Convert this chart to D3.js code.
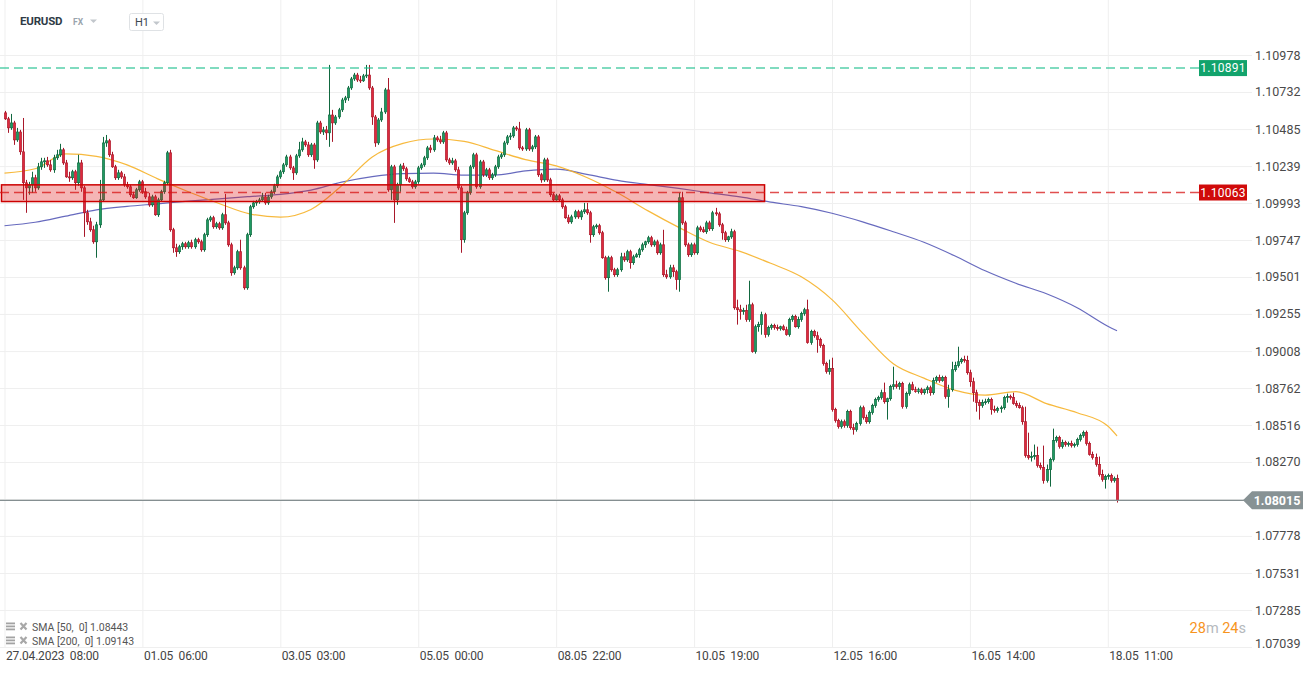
<!DOCTYPE html>
<html><head><meta charset="utf-8">
<script src="https://cdn.jsdelivr.net/npm/d3@7"></script>
<style>
html,body{margin:0;padding:0;background:#fff;}
svg{display:block;font-family:Roboto,"Noto Sans",Arial,sans-serif;}
</style></head><body>
<svg id="chart" width="1315" height="673"></svg>
<script>
// ---------------- DATA ----------------
const symbol = "EURUSD";
const market = "FX";
const interval = "H1";
const firstOpen = 1.10593;
const closes = [
1.10553,1.10493,1.10526,1.10413,1.10466,1.10334,1.10128,1.10094,1.10114,1.10161,
1.10094,1.10234,1.10267,1.10274,1.10247,1.10214,1.10294,1.10314,1.10347,1.10260,
1.10167,1.10161,1.10201,1.10128,1.10260,1.10094,1.09928,1.09868,1.09815,1.09735,
1.09848,1.10014,1.10393,1.10407,1.10314,1.10234,1.10161,1.10194,1.10167,1.10114,
1.10101,1.10048,1.10028,1.10081,1.10134,1.10068,1.10034,1.09981,1.10034,1.09915,
1.10014,1.10068,1.10128,1.10327,1.09815,1.09695,1.09669,1.09702,1.09722,1.09702,
1.09729,1.09702,1.09749,1.09735,1.09682,1.09782,1.09881,1.09895,1.09835,1.09855,
1.09828,1.09915,1.09861,1.09715,1.09529,1.09562,1.09669,1.09562,1.09429,1.09782,
1.09968,1.09994,1.10001,1.10014,1.10034,1.09994,1.10034,1.10068,1.10108,1.10167,
1.10201,1.10247,1.10300,1.10227,1.10194,1.10307,1.10347,
1.10400,1.10380,1.10314,1.10380,1.10280,1.10526,1.10466,1.10480,1.10460,1.10579,
1.10526,1.10566,1.10613,1.10679,1.10693,1.10759,1.10819,1.10845,1.10812,1.10806,
1.10839,1.10845,1.10759,1.10566,1.10393,1.10546,1.10599,1.10746,1.10081,1.10234,
1.10014,1.10114,1.10240,1.10221,1.10154,1.10134,1.10101,1.10134,1.10227,1.10247,
1.10294,1.10360,1.10347,1.10427,1.10413,1.10400,1.10460,1.10280,1.10260,1.10274,
1.10214,1.10094,1.09749,1.09928,1.10061,1.10234,1.10314,1.10101,1.10267,1.10181,
1.10214,1.10161,1.10181,1.10234,1.10300,1.10314,1.10393,1.10433,1.10440,1.10493,
1.10486,1.10360,1.10353,1.10480,1.10353,1.10367,1.10433,1.10181,1.10147,1.10280,
1.10147,1.10048,1.10014,1.10041,1.10014,1.09968,1.09895,1.09868,1.09901,1.09935,
1.09901,1.09935,1.09948,1.09928,1.09782,1.09835,1.09842,1.09795,
1.09629,1.09496,1.09629,1.09549,1.09516,1.09549,1.09635,1.09615,1.09669,1.09596,
1.09635,1.09649,1.09682,1.09715,1.09735,1.09762,1.09715,1.09735,1.09662,1.09715,
1.09516,1.09502,1.09562,1.09536,1.09483,1.10028,1.09861,1.09715,1.09649,1.09715,
1.09662,1.09828,1.09815,1.09802,1.09861,1.09822,1.09928,1.09921,1.09848,1.09795,
1.09749,1.09768,1.09802,
1.09296,1.09283,1.09270,1.09277,1.09217,1.09316,1.09004,1.09170,1.09184,1.09250,
1.09117,1.09164,1.09177,1.09164,1.09157,1.09170,1.09150,1.09117,1.09217,1.09237,
1.09170,1.09217,1.09257,1.09283,1.09064,1.09137,1.09110,1.09084,1.09044,1.08924,
1.08871,1.08891,1.08618,1.08545,1.08505,1.08538,1.08512,1.08605,1.08498,1.08485,
1.08525,1.08631,1.08565,1.08538,1.08598,1.08645,1.08685,1.08698,1.08731,1.08671,
1.08691,1.08771,1.08784,1.08771,1.08791,1.08638,1.08725,1.08784,1.08751,1.08738,
1.08751,1.08731,1.08751,1.08764,1.08731,1.08811,1.08831,1.08811,1.08831,1.08705,
1.08751,1.08884,1.08911,1.08937,1.08951,1.08944,1.08864,1.08804,1.08731,1.08665,
1.08645,1.08665,1.08671,1.08685,1.08618,1.08612,1.08625,1.08631,1.08698,1.08705,
1.08698,1.08658,1.08645,1.08631,1.08538,1.08312,1.08299,1.08306,1.08312,1.08246,
1.08233,1.08146,1.08219,1.08286,1.08412,1.08432,1.08372,1.08399,1.08386,1.08392,
1.08379,1.08386,1.08419,1.08445,1.08465,1.08392,1.08319,1.08299,1.08253,1.08186,
1.08153,1.08173,1.08179,1.08146,1.08159,1.08015
];
const highs = [
1.10606,1.10566,1.10586,1.10540,1.10493,1.10480,1.10559,1.10147,1.10134,1.10201,
1.10181,1.10260,1.10294,1.10294,1.10300,1.10280,1.10314,1.10347,1.10387,1.10360,
1.10280,1.10201,1.10214,1.10214,1.10314,1.10280,1.10108,1.09948,1.09895,1.09842,
1.09868,1.10147,1.10433,1.10446,1.10420,1.10334,1.10247,1.10214,1.10207,1.10187,
1.10134,1.10114,1.10068,1.10094,1.10147,1.10147,1.10094,1.10061,1.10048,1.10048,
1.10028,1.10081,1.10141,1.10340,1.10347,1.09828,1.09722,1.09715,1.09735,1.09735,
1.09742,1.09749,1.09762,1.09762,1.09749,1.09795,1.09895,1.09908,1.09908,1.09868,
1.09868,1.09928,1.10054,1.09875,1.09729,1.09576,1.09682,1.09749,1.09576,1.09795,
1.09981,1.10008,1.10014,1.10028,1.10061,1.10061,1.10048,1.10081,1.10121,1.10181,
1.10214,1.10260,1.10314,1.10314,1.10240,1.10320,1.10400,
1.10427,1.10413,1.10400,1.10393,1.10393,1.10540,1.10540,1.10500,1.10506,1.10912,
1.10613,1.10579,1.10626,1.10693,1.10706,1.10772,1.10832,1.10859,1.10859,1.10839,
1.10852,1.10912,1.10912,1.10772,1.10579,1.10559,1.10626,1.10759,1.10825,1.10247,
1.10247,1.10128,1.10254,1.10260,1.10234,1.10167,1.10147,1.10147,1.10240,1.10260,
1.10307,1.10373,1.10380,1.10446,1.10440,1.10440,1.10473,1.10473,1.10294,1.10294,
1.10287,1.10234,1.10108,1.09941,1.10074,1.10247,1.10327,1.10327,1.10280,1.10280,
1.10227,1.10227,1.10194,1.10247,1.10314,1.10327,1.10407,1.10446,1.10460,1.10506,
1.10506,1.10533,1.10373,1.10493,1.10493,1.10380,1.10446,1.10446,1.10194,1.10294,
1.10294,1.10161,1.10061,1.10054,1.10054,1.10028,1.09981,1.09915,1.09915,1.09948,
1.09948,1.09948,1.09994,1.09994,1.09941,1.09848,1.09855,1.09855,
1.09808,1.09642,1.09642,1.09642,1.09562,1.09562,1.09662,1.09662,1.09682,1.09682,
1.09649,1.09662,1.09695,1.09729,1.09742,1.09775,1.09775,1.09749,1.09749,1.09729,
1.09815,1.09549,1.09582,1.09582,1.09549,1.10061,1.10068,1.09875,1.09729,1.09729,
1.09729,1.09842,1.09842,1.09835,1.09875,1.09875,1.09941,1.09961,1.09935,1.09861,
1.09808,1.09775,1.09822,
1.09815,1.09350,1.09316,1.09296,1.09316,1.09476,1.09330,1.09184,1.09203,1.09270,
1.09263,1.09177,1.09190,1.09190,1.09184,1.09177,1.09184,1.09170,1.09230,1.09250,
1.09250,1.09237,1.09270,1.09296,1.09350,1.09150,1.09150,1.09137,1.09097,1.09057,
1.08937,1.08951,1.08964,1.08631,1.08558,1.08552,1.08552,1.08618,1.08618,1.08525,
1.08538,1.08645,1.08645,1.08585,1.08612,1.08658,1.08698,1.08711,1.08751,1.08798,
1.08698,1.08784,1.08904,1.08811,1.08804,1.08804,1.08738,1.08798,1.08804,1.08771,
1.08764,1.08764,1.08758,1.08778,1.08778,1.08831,1.08844,1.08851,1.08844,1.08844,
1.08784,1.08937,1.08937,1.09037,1.08964,1.08977,1.08977,1.08884,1.08831,1.08751,
1.08685,1.08685,1.08691,1.08698,1.08698,1.08645,1.08638,1.08645,1.08711,1.08725,
1.08718,1.08731,1.08678,1.08665,1.08645,1.08638,1.08465,1.08339,1.08386,1.08372,
1.08266,1.08379,1.08253,1.08299,1.08492,1.08445,1.08445,1.08419,1.08412,1.08406,
1.08412,1.08399,1.08432,1.08459,1.08479,1.08479,1.08406,1.08339,1.08326,1.08306,
1.08219,1.08186,1.08193,1.08193,1.08173,1.08186
];
const lows = [
1.10546,1.10460,1.10480,1.10380,1.10400,1.10314,1.10014,1.09928,1.10048,1.10061,
1.10068,1.10081,1.10214,1.10227,1.10234,1.10201,1.10194,1.10280,1.10300,1.10247,
1.10161,1.10134,1.10147,1.10081,1.10108,1.10068,1.09768,1.09848,1.09802,1.09722,
1.09629,1.09828,1.10001,1.10367,1.10300,1.10227,1.10147,1.10147,1.10154,1.10101,
1.10088,1.10034,1.10021,1.10021,1.10068,1.10054,1.10021,1.09968,1.09968,1.09908,
1.09901,1.10001,1.10054,1.10114,1.09802,1.09662,1.09635,1.09655,1.09682,1.09689,
1.09689,1.09689,1.09689,1.09722,1.09669,1.09669,1.09768,1.09868,1.09822,1.09822,
1.09815,1.09815,1.09848,1.09702,1.09509,1.09516,1.09549,1.09549,1.09416,1.09416,
1.09768,1.09955,1.09975,1.09988,1.10001,1.09981,1.09981,1.10021,1.10054,1.10094,
1.10154,1.10187,1.10234,1.10214,1.10147,1.10181,1.10294,
1.10334,1.10367,1.10300,1.10300,1.10221,1.10267,1.10453,1.10446,1.10413,1.10367,
1.10400,1.10513,1.10553,1.10599,1.10659,1.10673,1.10746,1.10806,1.10799,1.10792,
1.10799,1.10825,1.10746,1.10513,1.10367,1.10380,1.10533,1.10586,1.10068,1.10014,
1.09861,1.09981,1.10068,1.10207,1.10141,1.10128,1.10088,1.10088,1.10121,1.10214,
1.10234,1.10280,1.10327,1.10334,1.10400,1.10387,1.10387,1.10267,1.10247,1.10247,
1.10201,1.10081,1.09662,1.09729,1.09915,1.10048,1.10221,1.10088,1.10088,1.10167,
1.10167,1.10147,1.10147,1.10167,1.10221,1.10287,1.10300,1.10380,1.10413,1.10427,
1.10473,1.10347,1.10340,1.10340,1.10340,1.10334,1.10353,1.10167,1.10128,1.10134,
1.10134,1.10034,1.10001,1.10008,1.10001,1.09955,1.09888,1.09855,1.09855,1.09888,
1.09888,1.09881,1.09921,1.09915,1.09729,1.09768,1.09822,1.09782,
1.09622,1.09483,1.09403,1.09536,1.09502,1.09502,1.09536,1.09602,1.09602,1.09556,
1.09582,1.09629,1.09629,1.09669,1.09695,1.09722,1.09702,1.09702,1.09649,1.09649,
1.09502,1.09489,1.09489,1.09502,1.09416,1.09403,1.09848,1.09702,1.09635,1.09635,
1.09649,1.09649,1.09802,1.09795,1.09788,1.09808,1.09808,1.09908,1.09835,1.09749,
1.09735,1.09735,1.09755,
1.09283,1.09184,1.09217,1.09250,1.09203,1.09203,1.08997,1.08991,1.09137,1.09117,
1.09097,1.09104,1.09150,1.09150,1.09144,1.09144,1.09144,1.09110,1.09104,1.09203,
1.09164,1.09157,1.09203,1.09243,1.09057,1.09050,1.09097,1.08997,1.09030,1.08911,
1.08858,1.08851,1.08605,1.08532,1.08492,1.08492,1.08498,1.08498,1.08485,1.08452,
1.08472,1.08512,1.08552,1.08525,1.08525,1.08585,1.08631,1.08671,1.08685,1.08658,
1.08552,1.08678,1.08751,1.08758,1.08751,1.08625,1.08625,1.08711,1.08745,1.08731,
1.08725,1.08718,1.08718,1.08725,1.08711,1.08718,1.08798,1.08798,1.08804,1.08691,
1.08631,1.08738,1.08871,1.08898,1.08924,1.08931,1.08851,1.08771,1.08671,1.08605,
1.08552,1.08631,1.08651,1.08658,1.08585,1.08598,1.08598,1.08598,1.08618,1.08665,
1.08685,1.08651,1.08631,1.08625,1.08518,1.08299,1.08286,1.08273,1.08286,1.08233,
1.08219,1.08126,1.08133,1.08106,1.08273,1.08399,1.08359,1.08359,1.08372,1.08372,
1.08366,1.08366,1.08372,1.08406,1.08432,1.08379,1.08312,1.08286,1.08239,1.08173,
1.08139,1.08093,1.08153,1.08133,1.08133,1.08000
];
// moving averages, read at every 10th candle
const smaIdx = [0,10,20,30,40,50,60,70,80,90,100,110,120,130,140,150,160,170,180,190,200,210,220,230,240,250,260,270,280,290,300,310,320,330,340,350,360,363];
const sma50 = [1.10192,1.10221,1.10320,1.10304,1.10247,1.10154,1.10068,1.09990,1.09921,1.09899,1.09950,1.10108,1.10300,1.10390,1.10419,1.10403,1.10343,1.10282,1.10240,1.10163,1.10061,1.09941,1.09831,1.09732,1.09671,1.09592,1.09502,1.09350,1.09128,1.08924,1.08828,1.08748,1.08715,1.08738,1.08658,1.08598,1.08509,1.08443];
const sma200 = [1.09842,1.09865,1.09906,1.09948,1.09971,1.09988,1.10006,1.10021,1.10036,1.10051,1.10079,1.10132,1.10169,1.10189,1.10192,1.10179,1.10179,1.10207,1.10218,1.10184,1.10144,1.10116,1.10090,1.10061,1.10034,1.09999,1.09969,1.09925,1.09868,1.09802,1.09732,1.09642,1.09542,1.09459,1.09389,1.09296,1.09173,1.09143];
const priceTicks = [1.10978,1.10732,1.10485,1.10239,1.09993,1.09747,1.09501,1.09255,1.09008,1.08762,1.08516,1.08270,1.08024,1.07778,1.07531,1.07285,1.07039];
const timeTickIdx = [0,45,90,135,180,225,270,315,360];
const timeTickLabels = ["27.04.2023  08:00","01.05  06:00","03.05  03:00","05.05  00:00","08.05  22:00","10.05  19:00","12.05  16:00","16.05  14:00","18.05  11:00"];
const resistanceLevel = 1.10891;
const supportLevel = 1.10063;
const zoneTop = 1.10114, zoneBottom = 1.10003, zoneStartIdx = -1, zoneEndIdx = 248;
const lastPrice = 1.08015;
const legendItems = ["SMA [50,  0] 1.08443","SMA [200,  0] 1.09143"];
const timerParts = [["28","m"],["24","s"]];

// ---------------- CHART ----------------
const svg = d3.select("#chart");
const plotRight = 1252, plotBottom = 647;
const x = d3.scaleLinear().domain([0, 363]).range([4.5, 1117]);
const y = d3.scaleLinear().domain([1.07039, 1.10978]).range([647, 55]);
const fmt = d3.format(".5f");

// horizontal gridlines
svg.append("g").attr("transform", `translate(${plotRight},0)`)
  .call(d3.axisLeft(y).tickValues(priceTicks).tickSize(plotRight).tickFormat(""))
  .call(g => g.select(".domain").remove())
  .call(g => g.selectAll("line").attr("stroke", "#efefef"));
// vertical gridlines
svg.append("g").attr("transform", `translate(0,${plotBottom})`)
  .call(d3.axisBottom(x).tickValues(timeTickIdx).tickSize(-plotBottom).tickFormat(""))
  .call(g => g.select(".domain").remove())
  .call(g => g.selectAll("line").attr("stroke", "#efefef"));

// price axis labels
svg.append("g").attr("transform", `translate(${plotRight},0)`)
  .call(d3.axisRight(y).tickValues(priceTicks).tickSize(0).tickPadding(3).tickFormat(fmt))
  .call(g => g.select(".domain").remove())
  .call(g => g.selectAll("text").attr("font-size", 12.5).attr("fill", "#4a4a4a")
      .attr("font-family", "Roboto, sans-serif")
      .attr("transform", d => d === 1.07039 ? "translate(0,-4)" : null));

// time axis labels
svg.append("g").attr("transform", `translate(0,${plotBottom})`)
  .call(d3.axisBottom(x).tickValues(timeTickIdx).tickSize(0).tickPadding(4.5)
        .tickFormat((d, i) => timeTickLabels[i]))
  .call(g => g.select(".domain").remove())
  .call(g => g.selectAll("text").attr("text-anchor", "start").attr("dx", 1)
      .attr("font-size", 12).attr("fill", "#444").style("white-space", "pre")
      .attr("font-family", "Roboto, sans-serif").attr("letter-spacing", "-0.2"));

// moving averages
const smaLine = d3.line().x(d => x(d[0])).y(d => y(d[1])).curve(d3.curveMonotoneX);
svg.append("path").datum(smaIdx.map((d, i) => [d, sma200[i]]))
  .attr("d", smaLine).attr("fill", "none").attr("stroke", "#4c50b3").attr("stroke-opacity", 0.85).attr("stroke-width", 1.2);
svg.append("path").datum(smaIdx.map((d, i) => [d, sma50[i]]))
  .attr("d", smaLine).attr("fill", "none").attr("stroke", "#f6b128").attr("stroke-opacity", 0.9).attr("stroke-width", 1.2);

// candles
const candles = closes.map((c, i) => {
  const o = i === 0 ? firstOpen : closes[i - 1];
  return { i, o, c, h: Math.max(highs[i], o, c), l: Math.min(lows[i], o, c) };
});
const upFill = "#1f9962", upStroke = "#11683f", dnFill = "#dd2a3d", dnStroke = "#a8182a";
const cg = svg.append("g");
cg.selectAll("line").data(candles).join("line")
  .attr("x1", d => Math.round(x(d.i)) + 0.5).attr("x2", d => Math.round(x(d.i)) + 0.5)
  .attr("y1", d => y(d.h)).attr("y2", d => y(d.l))
  .attr("stroke", d => d.c >= d.o ? upStroke : dnStroke).attr("stroke-width", 1);
cg.selectAll("rect").data(candles).join("rect")
  .attr("x", d => Math.round(x(d.i)) - 0.7).attr("width", 2.4)
  .attr("y", d => y(Math.max(d.o, d.c)))
  .attr("height", d => Math.max(1, Math.abs(y(d.o) - y(d.c))))
  .attr("fill", d => d.c >= d.o ? upFill : dnFill)
  .attr("stroke", d => d.c >= d.o ? upStroke : dnStroke).attr("stroke-width", 0.6);

// support zone
svg.append("rect")
  .attr("x", Math.max(1.5, x(zoneStartIdx))).attr("y", y(zoneTop))
  .attr("width", x(zoneEndIdx) - Math.max(1.5, x(zoneStartIdx)))
  .attr("height", y(zoneBottom) - y(zoneTop))
  .attr("fill", "rgba(226,30,30,0.33)").attr("stroke", "#cc0000").attr("stroke-width", 1.5);

// level lines with labels
function levelLine(v, lineColor, boxColor) {
  const yy = y(v);
  svg.append("line").attr("x1", 0).attr("x2", 1199).attr("y1", yy).attr("y2", yy)
    .attr("stroke", lineColor).attr("stroke-width", 1.5).attr("stroke-dasharray", "9,5");
  svg.append("rect").attr("x", 1199).attr("y", yy - 8).attr("width", 48).attr("height", 16).attr("fill", boxColor);
  svg.append("text").attr("x", 1223).attr("y", yy).attr("dy", "0.36em").attr("text-anchor", "middle")
    .attr("fill", "#fff").attr("font-size", 12).attr("letter-spacing", "0.3").text(fmt(v));
}
levelLine(resistanceLevel, "rgba(30,190,140,0.75)", "#12a36c");
levelLine(supportLevel, "rgba(215,20,20,0.75)", "#d00a0a");

// last price line + label
const yl = y(lastPrice);
svg.append("line").attr("x1", 0).attr("x2", 1244).attr("y1", yl).attr("y2", yl)
  .attr("stroke", "#858f91").attr("stroke-width", 1.3);
svg.append("path")
  .attr("d", `M1243,${yl} L1252,${yl - 9} L1303,${yl - 9} L1303,${yl + 9} L1252,${yl + 9} Z`)
  .attr("fill", "#879294");
svg.append("text").attr("x", 1277).attr("y", yl).attr("dy", "0.36em").attr("text-anchor", "middle")
  .attr("fill", "#fff").attr("font-size", 12.5).attr("font-weight", "bold").text(fmt(lastPrice));

// header
const hdr = svg.append("g");
hdr.append("text").attr("x", 20).attr("y", 25).attr("font-size", 11.5).attr("font-weight", "bold")
  .attr("fill", "#2f3b46").attr("letter-spacing", "-0.2").text(symbol);
hdr.append("text").attr("x", 73).attr("y", 25).attr("font-size", 8.5).attr("font-weight", "bold")
  .attr("fill", "#9aa4ad").text(market);
hdr.append("path").attr("d", "M90,19.5 L97,19.5 L93.5,23 Z").attr("fill", "#c2c7cc");
hdr.append("rect").attr("x", 129.5).attr("y", 13.5).attr("width", 34).attr("height", 17).attr("rx", 2)
  .attr("fill", "#fff").attr("stroke", "#dfe2e5");
hdr.append("text").attr("x", 135).attr("y", 26).attr("font-size", 11).attr("fill", "#3d4750").text(interval);
hdr.append("path").attr("d", "M153,21.5 L160,21.5 L156.5,25 Z").attr("fill", "#c2c7cc");

// legend
const lg = svg.append("g");
legendItems.forEach((t, k) => {
  const yy = 627 + k * 14;
  [-4.5, -1.5, 1.5].forEach(dy => lg.append("rect").attr("x", 6).attr("y", yy + dy)
    .attr("width", 9).attr("height", 1.8).attr("fill", "#a3a3a3"));
  lg.append("path").attr("d", `M20.5,${yy - 4} L26.5,${yy + 2.5} M26.5,${yy - 4} L20.5,${yy + 2.5}`)
    .attr("stroke", "#a8a8a8").attr("stroke-width", 2.2);
  lg.append("text").attr("x", 32).attr("y", yy + 3.8).attr("font-size", 10.5).attr("fill", "#555")
    .style("white-space", "pre").text(t);
});

// countdown timer
const tm = svg.append("text").attr("x", 1246).attr("y", 633).attr("text-anchor", "end").attr("font-size", 14.5);
timerParts.forEach((p, k) => {
  tm.append("tspan").attr("fill", "#f7941d").text((k ? " " : "") + p[0]);
  tm.append("tspan").attr("fill", "#b5b9bd").text(p[1]);
});
</script>
</body></html>
